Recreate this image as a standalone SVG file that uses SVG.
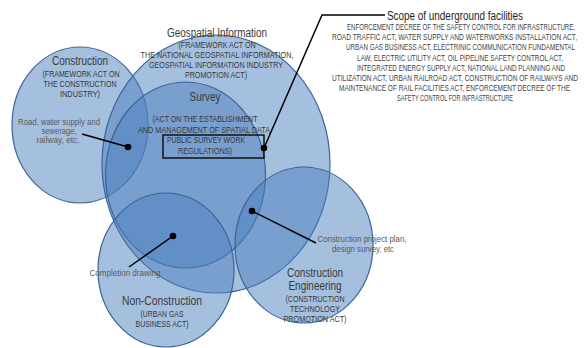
<svg xmlns="http://www.w3.org/2000/svg" width="588" height="348" viewBox="0 0 588 348">
<style>
.c{fill:#4b80be;fill-opacity:0.5;stroke:#3a6497;stroke-width:1.2}
text{font-family:"Liberation Sans",Arial,sans-serif;text-anchor:middle}
.t{font-size:12px;fill:#3a3a3a}
.p{font-size:8.5px;fill:#383838}
.a{font-size:9px;fill:#5a5a5a}
.s{font-size:8.5px;fill:#444}
.h{font-size:12px;fill:#1e1e1e}
.l{stroke:#000;stroke-width:1.5;fill:none}
</style>
<rect width="588" height="348" fill="#fff"/>
<g id="construction">
<ellipse class="c" cx="80" cy="125" rx="68" ry="78"/>
<text class="t" x="80" y="65" textLength="56" lengthAdjust="spacingAndGlyphs">Construction</text>
<text class="p" x="81" y="77" textLength="77" lengthAdjust="spacingAndGlyphs">(FRAMEWORK ACT ON</text>
<text class="p" x="80" y="87" textLength="73" lengthAdjust="spacingAndGlyphs">THE CONSTRUCTION</text>
<text class="p" x="80" y="96.5" textLength="40" lengthAdjust="spacingAndGlyphs">INDUSTRY)</text>
<text class="a" x="59" y="125" textLength="82" lengthAdjust="spacingAndGlyphs">Road, water supply and</text>
<text class="a" x="59" y="134" textLength="35" lengthAdjust="spacingAndGlyphs">sewerage,</text>
<text class="a" x="58" y="143" textLength="43" lengthAdjust="spacingAndGlyphs">railway, etc.</text>
</g>
<g id="geospatial">
<ellipse class="c" cx="216" cy="164" rx="114" ry="129"/>
<text class="t" x="217" y="37" textLength="100" lengthAdjust="spacingAndGlyphs">Geospatial Information</text>
<text class="p" x="217" y="48" textLength="77" lengthAdjust="spacingAndGlyphs">(FRAMEWORK ACT ON</text>
<text class="p" x="217" y="58" textLength="153" lengthAdjust="spacingAndGlyphs">THE NATIONAL GEOSPATIAL INFORMATION,</text>
<text class="p" x="216" y="68" textLength="134" lengthAdjust="spacingAndGlyphs">GEOSPATIAL INFORMATION INDUSTRY</text>
<text class="p" x="216" y="78" textLength="62" lengthAdjust="spacingAndGlyphs">PROMOTION ACT)</text>
</g>
<g id="survey">
<ellipse class="c" cx="185.5" cy="175" rx="80" ry="93"/>
<text class="t" x="205" y="101" textLength="31" lengthAdjust="spacingAndGlyphs">Survey</text>
<text class="p" x="205" y="121.7" textLength="105" lengthAdjust="spacingAndGlyphs">(ACT ON THE ESTABLISHMENT</text>
<text class="p" x="204" y="132.5" textLength="132" lengthAdjust="spacingAndGlyphs">AND MANAGEMENT OF SPATIAL DATA</text>
<text class="p" x="206" y="143" textLength="78" lengthAdjust="spacingAndGlyphs">PUBLIC SURVEY WORK</text>
<text class="p" x="205" y="153.5" textLength="54" lengthAdjust="spacingAndGlyphs">REGULATIONS)</text>
<rect x="163" y="135" width="101" height="23" fill="none" stroke="#111" stroke-width="1.5"/>
</g>
<g id="non-construction">
<ellipse class="c" cx="166" cy="270" rx="68" ry="77"/>
<text class="t" x="162" y="305" textLength="80" lengthAdjust="spacingAndGlyphs">Non-Construction</text>
<text class="p" x="162" y="316.5" textLength="43" lengthAdjust="spacingAndGlyphs">(URBAN GAS</text>
<text class="p" x="162" y="327" textLength="53" lengthAdjust="spacingAndGlyphs">BUSINESS ACT)</text>
<text class="a" x="125" y="276" textLength="71" lengthAdjust="spacingAndGlyphs">Completion drawing</text>
</g>
<g id="construction-engineering">
<ellipse class="c" cx="304" cy="245" rx="69" ry="78"/>
<text class="t" x="315" y="277" textLength="56" lengthAdjust="spacingAndGlyphs">Construction</text>
<text class="t" x="315" y="290" textLength="53" lengthAdjust="spacingAndGlyphs">Engineering</text>
<text class="p" x="315" y="301.5" textLength="59" lengthAdjust="spacingAndGlyphs">(CONSTRUCTION</text>
<text class="p" x="315" y="312" textLength="50" lengthAdjust="spacingAndGlyphs">TECHNOLOGY</text>
<text class="p" x="315" y="322" textLength="63" lengthAdjust="spacingAndGlyphs">PROMOTION ACT)</text>
<text class="a" x="362" y="241.5" textLength="89" lengthAdjust="spacingAndGlyphs">Construction project plan,</text>
<text class="a" x="363" y="251.5" textLength="62" lengthAdjust="spacingAndGlyphs">design survey, etc</text>
</g>
<g id="scope">
<text class="h" x="455" y="20" textLength="136" lengthAdjust="spacingAndGlyphs">Scope of underground facilities</text>
<g transform="scale(0.75,1)">
<text class="s" x="614.67" y="30" textLength="304" lengthAdjust="spacingAndGlyphs">ENFORCEMENT  DECREE OF THE SAFETY CONTROL FOR INFRASTRUCTURE,</text>
<text class="s" x="606" y="40.2" textLength="326.67" lengthAdjust="spacingAndGlyphs">ROAD TRAFFIC ACT, WATER SUPPLY AND WATERWORKS  INSTALLATION ACT,</text>
<text class="s" x="614" y="50.4" textLength="305.33" lengthAdjust="spacingAndGlyphs">URBAN GAS BUSINESS ACT, ELECTRINIC COMMUNICATION FUNDAMENTAL</text>
<text class="s" x="613.33" y="60.6" textLength="274.67" lengthAdjust="spacingAndGlyphs">LAW, ELECTRIC UTILITY ACT, OIL PIPELINE SAFETY CONTROL ACT,</text>
<text class="s" x="614.67" y="70.8" textLength="277.33" lengthAdjust="spacingAndGlyphs">INTEGRATED ENERGY SUPPLY ACT, NATIONAL LAND PLANNING AND</text>
<text class="s" x="606.67" y="81" textLength="328" lengthAdjust="spacingAndGlyphs">UTILIZATION ACT, URBAN RAILROAD ACT, CONSTRUCTION OF RAILWAYS AND</text>
<text class="s" x="606" y="91.1" textLength="308" lengthAdjust="spacingAndGlyphs">MAINTENANCE OF RAIL FACILITIES  ACT, ENFORCEMENT  DECREE OF THE</text>
<text class="s" x="606.67" y="101.2" textLength="154.67" lengthAdjust="spacingAndGlyphs">SAFETY CONTROL FOR INFRASTRUCTURE</text>
</g>
</g>
<g id="connectors">
<polyline class="l" points="385,15 322,15 264,148"/>
<circle cx="264" cy="148" r="3.3" fill="#000"/>
<line class="l" x1="82" y1="134" x2="128" y2="147"/>
<circle cx="128" cy="147" r="3.3" fill="#000"/>
<line class="l" x1="129" y1="267" x2="173" y2="236"/>
<circle cx="173" cy="236" r="3.3" fill="#000"/>
<line class="l" x1="316" y1="243" x2="252" y2="211"/>
<circle cx="252" cy="211" r="3.3" fill="#000"/>
</g>
</svg>
